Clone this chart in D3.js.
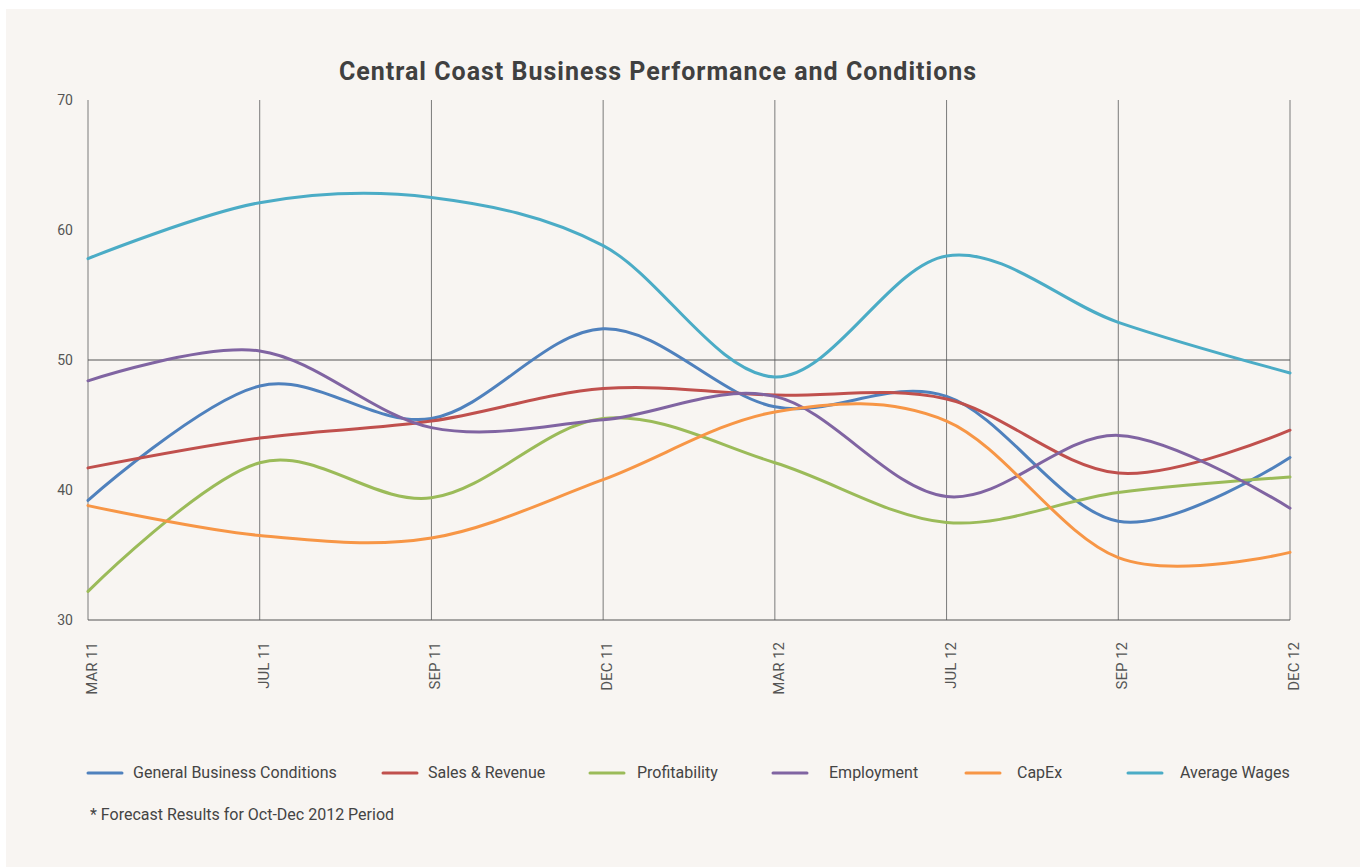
<!DOCTYPE html>
<html>
<head>
<meta charset="utf-8">
<script src="https://cdn.jsdelivr.net/npm/d3@7"></script>
<style>
  html, body { margin: 0; padding: 0; background: #fff; }
  svg { display: block; font-family: Roboto, "Open Sans", sans-serif; }
</style>
</head>
<body>
<svg id="chart" width="1362" height="867"></svg>
<script>
  // ─── data ───
  const periods = ['MAR 11', 'JUL 11', 'SEP 11', 'DEC 11', 'MAR 12', 'JUL 12', 'SEP 12', 'DEC 12'];
  const generalBusiness = [39.2, 48.0, 45.5, 52.4, 46.4, 47.2, 37.6, 42.5];
  const salesRevenue    = [41.7, 44.0, 45.3, 47.8, 47.3, 47.0, 41.3, 44.6];
  const profitability   = [32.2, 42.1, 39.4, 45.5, 42.1, 37.5, 39.8, 41.0];
  const employment      = [48.4, 50.7, 44.8, 45.4, 47.2, 39.5, 44.2, 38.6];
  const capEx           = [38.8, 36.5, 36.3, 40.8, 46.0, 45.3, 34.8, 35.2];
  const averageWages    = [57.8, 62.1, 62.5, 58.8, 48.7, 58.0, 52.9, 49.0];
  const yTicks = [30, 40, 50, 60, 70];

  const series = [
    { name: 'General Business Conditions', values: generalBusiness, color: '#4f81bd' },
    { name: 'Sales & Revenue', values: salesRevenue, color: '#c0504d' },
    { name: 'Profitability', values: profitability, color: '#9bbb59' },
    { name: 'Employment', values: employment, color: '#8064a2' },
    { name: 'CapEx', values: capEx, color: '#f79646' },
    { name: 'Average Wages', values: averageWages, color: '#4bacc6' }
  ];

  const svg = d3.select('#chart');

  // panel background
  svg.append('rect')
    .attr('x', 6).attr('y', 9)
    .attr('width', 1354).attr('height', 858)
    .attr('fill', '#f8f5f2');

  const x = d3.scalePoint().domain(periods).range([88, 1290]);
  const y = d3.scaleLinear().domain([30, 70]).range([620, 100]);

  // title
  svg.append('text')
    .attr('x', 658).attr('y', 80)
    .attr('text-anchor', 'middle')
    .attr('font-size', 25).attr('font-weight', 700)
    .attr('letter-spacing', 1)
    .attr('fill', '#404040')
    .text('Central Coast Business Performance and Conditions');

  // vertical grid lines
  svg.append('g').selectAll('line')
    .data(periods)
    .join('line')
    .attr('x1', d => x(d)).attr('x2', d => x(d))
    .attr('y1', y(70)).attr('y2', y(30))
    .attr('stroke', '#7a7a7a').attr('stroke-width', 1);

  // horizontal lines (50 and base)
  svg.append('g').selectAll('line')
    .data([30, 50])
    .join('line')
    .attr('x1', x(periods[0])).attr('x2', x(periods[periods.length - 1]))
    .attr('y1', d => y(d)).attr('y2', d => y(d))
    .attr('stroke', '#555').attr('stroke-width', 1);

  // y tick labels
  svg.append('g').selectAll('text')
    .data(yTicks)
    .join('text')
    .attr('x', 73).attr('y', d => y(d) + 5)
    .attr('text-anchor', 'end')
    .attr('font-size', 14)
    .attr('fill', '#555')
    .text(d => d);

  // x tick labels, rotated
  svg.append('g').selectAll('text')
    .data(periods)
    .join('text')
    .attr('transform', d => `translate(${x(d) + 9},642) rotate(-90)`)
    .attr('text-anchor', 'end')
    .attr('font-size', 15)
    .attr('fill', '#555')
    .text(d => d);

  // lines
  const line = d3.line()
    .x((d, i) => x(periods[i]))
    .y(d => y(d))
    .curve(d3.curveCardinal.tension(0));

  svg.append('g').selectAll('path')
    .data(series)
    .join('path')
    .attr('d', d => line(d.values))
    .attr('fill', 'none')
    .attr('stroke', d => d.color)
    .attr('stroke-width', 3)
    .attr('stroke-linecap', 'round');

  // legend
  const legendX = [88, 383, 590, 773, 966, 1128];
  const legendTextX = [133, 428, 637, 829, 1017, 1180];
  const legend = svg.append('g').selectAll('g')
    .data(series)
    .join('g');
  legend.append('line')
    .attr('x1', (d, i) => legendX[i]).attr('x2', (d, i) => legendX[i] + 34)
    .attr('y1', 773).attr('y2', 773)
    .attr('stroke', d => d.color).attr('stroke-width', 3)
    .attr('stroke-linecap', 'round');
  legend.append('text')
    .attr('x', (d, i) => legendTextX[i]).attr('y', 778)
    .attr('font-size', 16)
    .attr('fill', '#444')
    .text(d => d.name);

  // footnote
  svg.append('text')
    .attr('x', 90).attr('y', 820)
    .attr('font-size', 16)
    .attr('fill', '#444')
    .text('* Forecast Results for Oct-Dec 2012 Period');
</script>
</body>
</html>
